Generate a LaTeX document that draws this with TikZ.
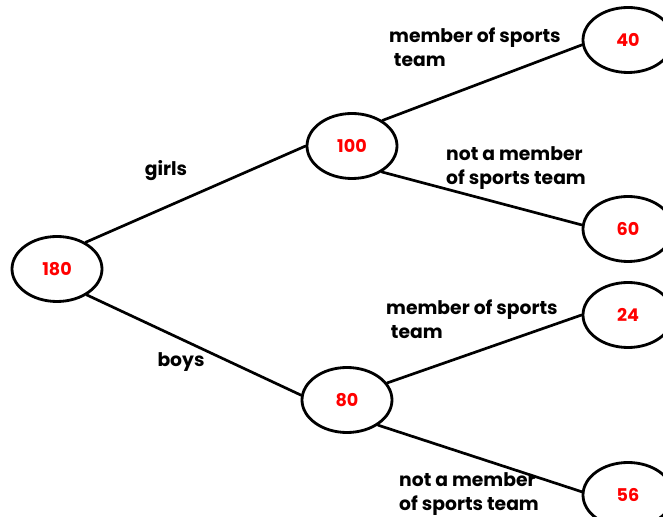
\documentclass[tikz,border=0pt]{standalone}
\usepackage{fontspec}
\setmainfont{Poppins}
\usetikzlibrary{shapes.geometric}

\tikzset{
  count/.style={ellipse,draw,line width=2.4pt,minimum width=2.7cm,minimum height=1.95cm,
    text=red,font=\bfseries\fontsize{15}{15}\selectfont},
  branch/.style={line width=2.3pt,line cap=round},
  lab/.style={align=left,font=\bfseries\fontsize{16}{20.5}\selectfont,inner sep=0pt}
}

\begin{document}
\begin{tikzpicture}[x=0.03cm,y=-0.03cm]
    \useasboundingbox (0,0) rectangle (663,517);

    % draw the counts
    \node[count] (all)   at (57,269)  {180};
    \node[count] (girls) at (352,146) {100};
    \node[count] (boys)  at (347,400) {80};
    \foreach \name/\y/\n in {gs/40/40, gn/229/60, bs/315/24, bn/495/56}
      \node[count] (\name) at (628,\y) {\n};

    % draw the branches, from border point to border point
    \foreach \a/\b in {all.43/girls.west, all.-41/boys.174,
                       girls.40/gs.186, girls.-41/gn.175,
                       boys.23/bs.west, boys.-39/bn.176}
      \draw[branch] (\a) -- (\b);

    % draw the labels on the branches
    \node[lab] (lgirls) at (166,171) {girls};
    \node[lab] (lboys)  at (181,362) {boys};
    \node[lab,anchor=north west] (lgs) at (389,28)  {member of sports\\\hspace{0.25em}team};
    \node[lab,anchor=north west] (lgn) at (446,146) {not a member\\of sports team};
    \node[lab,anchor=north west] (lbs) at (386,300) {member of sports\\\hspace{0.25em}team};
    \node[lab,anchor=north west] (lbn) at (399,472) {not a member\\of sports team};
  \end{tikzpicture}
\end{document}
